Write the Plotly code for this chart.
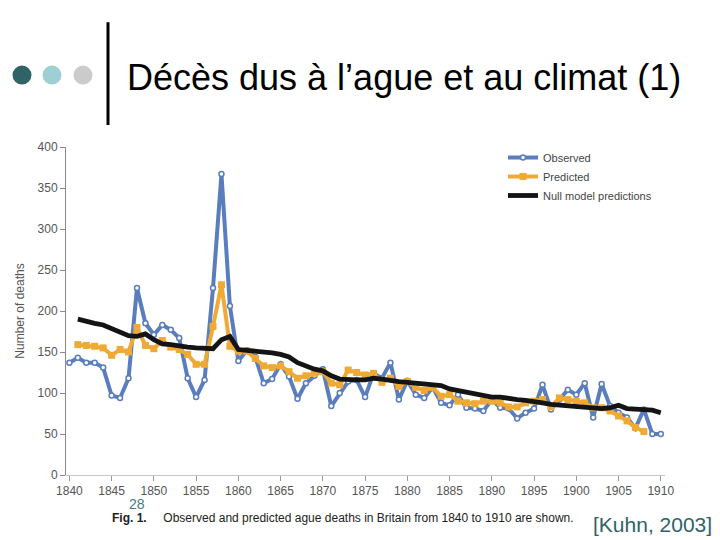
import plotly.graph_objects as go

# ---------------- data ----------------
years_obs = list(range(1840, 1911))
observed = [137, 143, 137, 137, 131, 97, 94, 118, 228, 185,
            171, 183, 177, 167, 118, 95, 116, 228, 367, 206,
            139, 152, 144, 112, 117, 135, 120, 93, 112, 121,
            129, 84, 100, 114, 116, 95, 124, 118, 137, 92,
            115, 98, 94, 107, 88, 85, 98, 82, 81, 78,
            92, 82, 81, 69, 76, 81, 110, 80, 92, 104,
            98, 112, 70, 111, 84, 76, 70, 57, 80, 50,
            50]

years_pred = list(range(1841, 1909))
predicted = [159, 158, 157, 155, 146, 153, 150, 180, 158, 154,
             164, 156, 153, 147, 135, 135, 181, 232, 157, 151,
             151, 142, 133, 131, 133, 126, 118, 121, 124, 126,
             112, 110, 128, 125, 122, 124, 113, 118, 108, 114,
             107, 103, 107, 96, 98, 90, 88, 87, 90, 90,
             88, 83, 83, 88, 90, 92, 83, 94, 92, 90,
             88, 82, 82, 78, 72, 66, 58, 53]

years_null = list(range(1841, 1911))
null_model = [190, 187, 185, 183, 179, 174, 170, 169, 172, 165,
              160, 159, 157, 156, 155, 154, 154, 165, 169, 153,
              152, 151, 151, 149, 147, 144, 137, 133, 129, 127,
              121, 117, 116, 116, 116, 118, 117, 115, 114, 113,
              112, 111, 110, 109, 105, 103, 101, 99, 97, 95,
              95, 93, 92, 91, 90, 88, 86, 85, 84, 83,
              83, 82, 81, 82, 85, 81, 80, 80, 79, 76]

y_ticks = [0, 50, 100, 150, 200, 250, 300, 350, 400]
x_ticks = list(range(1840, 1911, 5))

# ---------------- layout helpers ----------------
OFF = 8  # page body margin
W, H = 720 - OFF, 540 - OFF
L, R, T, B = 66 - OFF, 55, 147 - OFF, 64.5
PW, PH = W - L - R, H - T - B


def px(x):
    return (x - OFF - L) / PW


def py(y):
    return (H - B - (y - OFF)) / PH


BLUE = "#5a7dbd"
ORANGE = "#efaa35"
GREY_TXT = "#555555"

fig = go.Figure()
fig.add_trace(go.Scatter(
    x=years_obs, y=observed, name="Observed", mode="lines+markers",
    line=dict(color=BLUE, width=4),
    marker=dict(symbol="circle", size=5, color="white",
                line=dict(color=BLUE, width=1.5))))
fig.add_trace(go.Scatter(
    x=years_pred, y=predicted, name="Predicted", mode="lines+markers",
    line=dict(color=ORANGE, width=4),
    marker=dict(symbol="square", size=7, color=ORANGE)))
fig.add_trace(go.Scatter(
    x=years_null, y=null_model, name="Null model predictions", mode="lines",
    line=dict(color="#141414", width=4.8)))

fig.update_layout(
    width=W, height=H,
    margin=dict(l=L, r=R, t=T, b=B, pad=0),
    paper_bgcolor="white", plot_bgcolor="white",
    font=dict(family="Liberation Sans, Arial, sans-serif", color=GREY_TXT, size=12),
    showlegend=True,
    legend=dict(x=px(503), y=py(143), xanchor="left", yanchor="top",
                bgcolor="rgba(0,0,0,0)", font=dict(size=11, color="#444444"),
                tracegroupgap=0, itemwidth=30),
    xaxis=dict(range=[1839.6, 1910.5], tickvals=x_ticks,
               ticktext=[str(v) for v in x_ticks],
               showgrid=False, zeroline=False, showline=True,
               linecolor="#c8c8c8", linewidth=1,
               ticks="outside", ticklen=5, tickcolor="#999999",
               tickfont=dict(size=12, color=GREY_TXT)),
    yaxis=dict(range=[0, 400], tickvals=y_ticks,
               showgrid=False, zeroline=False, showline=True,
               linecolor="#8a8a8a", linewidth=1,
               ticks="outside", ticklen=5, tickcolor="#8a8a8a",
               tickfont=dict(size=12, color=GREY_TXT),
               title=dict(text="Number of deaths", font=dict(size=12, color=GREY_TXT),
                          standoff=10)),
)

shapes = []
for cx, col in [(22, "#2f6366"), (52, "#9dcfd4"), (83, "#cbcbcb")]:
    r = 9.5
    shapes.append(dict(type="circle", xref="paper", yref="paper",
                       x0=px(cx - r), x1=px(cx + r), y0=py(75 + r), y1=py(75 - r),
                       fillcolor=col, line=dict(width=0)))
shapes.append(dict(type="line", xref="paper", yref="paper",
                   x0=px(108), x1=px(108), y0=py(22), y1=py(125),
                   line=dict(color="black", width=3)))
fig.update_layout(shapes=shapes)

annotations = [
    dict(text="Décès dus à l’ague et au climat (1)", x=px(125), y=py(77),
         xanchor="left", yanchor="middle",
         font=dict(size=36, color="black", family="Liberation Sans, Arial")),
    dict(text="28", x=px(137), y=py(505), xanchor="center", yanchor="middle",
         font=dict(size=14, color="#3f7c82")),
    dict(text="<b>Fig. 1.</b>     Observed and predicted ague deaths in Britain from 1840 to 1910 are shown.",
         x=px(110), y=py(519), xanchor="left", yanchor="middle",
         font=dict(size=12, color="#222222")),
    dict(text="[Kuhn, 2003]", x=px(714), y=py(525), xanchor="right", yanchor="middle",
         font=dict(size=21, color="#2f6366")),
]
for a in annotations:
    a.update(xref="paper", yref="paper", showarrow=False)
fig.update_layout(annotations=annotations)

fig.write_html("out.html")
